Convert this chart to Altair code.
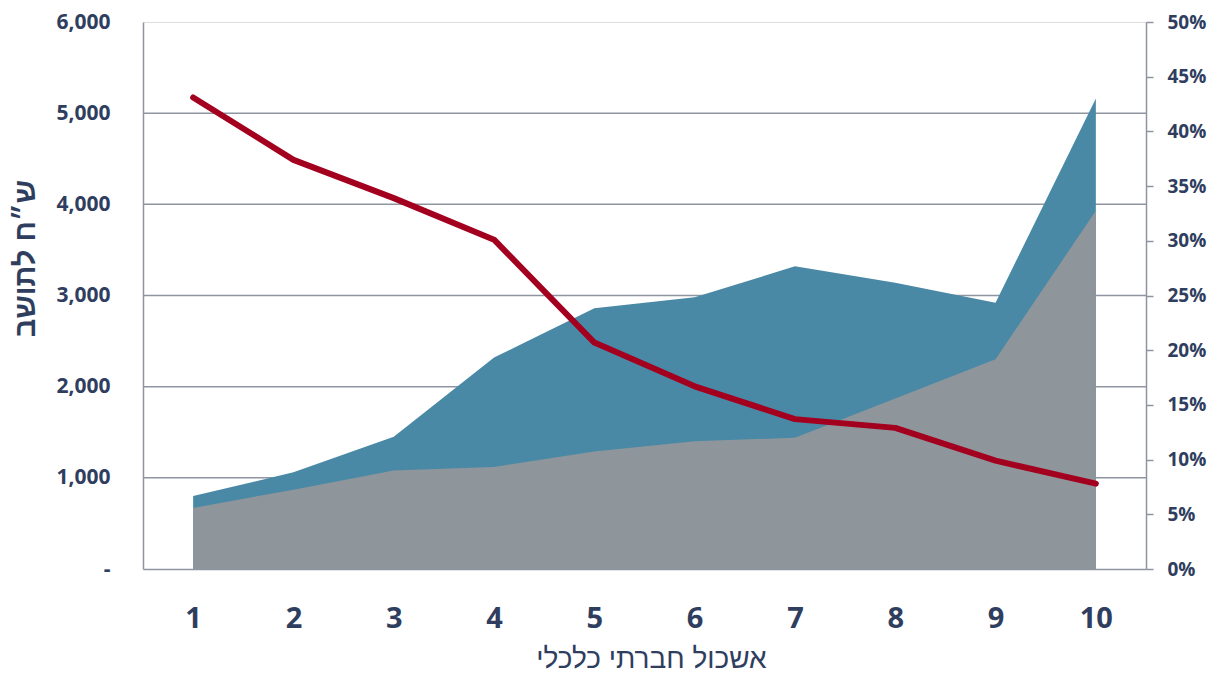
import altair as alt
import pandas as pd

clusters = [1, 2, 3, 4, 5, 6, 7, 8, 9, 10]
total_per_capita = [800, 1060, 1450, 2320, 2860, 2980, 3320, 3140, 2920, 5160]
base_per_capita = [670, 870, 1080, 1120, 1290, 1400, 1440, 1870, 2300, 3930]
share_pct = [0.431, 0.374, 0.339, 0.301, 0.207, 0.167, 0.137, 0.129, 0.099, 0.078]
grid_values = [1000, 2000, 3000, 4000, 5000]
left_ticks = [0, 1000, 2000, 3000, 4000, 5000, 6000]
right_ticks = [0, 0.05, 0.10, 0.15, 0.20, 0.25, 0.30, 0.35, 0.40, 0.45, 0.50]

df = pd.DataFrame({
    "cluster": clusters,
    "total": total_per_capita,
    "base": base_per_capita,
    "share": share_pct,
})
grid_df = pd.DataFrame({"v": grid_values})

TEXT = "#2F3E5E"
GRID = "#8F95A0"
BLUE = "#4A89A5"
GREY = "#8E969C"
RED = "#A3001F"

xscale = alt.Scale(type="point", padding=0.5)
xaxis = alt.Axis(
    title="אשכול חברתי כלכלי",
    labelAngle=0,
    ticks=False,
    domain=True,
    domainColor=GRID,
    domainWidth=1.5,
    labelFont="Open Sans",
    labelFontWeight="bold",
    labelFontSize=29,
    labelColor=TEXT,
    labelBaseline="alphabetic",
    labelPadding=58,
    titleFont="Liberation Sans",
    titleFontSize=28,
    titleFontWeight="normal",
    titleColor=TEXT,
    titleX=508,
    titleY=98,
    titleBaseline="alphabetic",
    titleAlign="center",
)
X = alt.X("cluster:O", scale=xscale, axis=xaxis)

yscale = alt.Scale(domain=[0, 6000], nice=False, zero=True)
yaxis = alt.Axis(
    title="ש״ח לתושב",
    values=left_ticks,
    labelExpr="datum.value == 0 ? '-\u00a0\u00a0' : format(datum.value, ',')",
    grid=False,
    ticks=False,
    domain=True,
    domainColor=GRID,
    domainWidth=1.5,
    labelFont="Open Sans",
    labelFontWeight="bold",
    labelFontSize=21,
    labelColor=TEXT,
    labelPadding=33,
    labelAlign="right",
    labelBaseline="middle",
    titleFont="Liberation Sans",
    titleFontSize=29,
    titleFontWeight="bold",
    titleColor=TEXT,
    titleAngle=-90,
    titleX=-118,
    titleY=236,
    titleAlign="center",
    titleBaseline="middle",
)

rules = alt.Chart(grid_df).mark_rule(color=GRID, strokeWidth=1.5).encode(
    y=alt.Y("v:Q", scale=yscale, axis=yaxis),
)
blue = alt.Chart(df).mark_area(color=BLUE, opacity=1).encode(
    x=X,
    y=alt.Y("total:Q", scale=yscale, axis=yaxis, stack=None),
)
grey = alt.Chart(df).mark_area(color=GREY, opacity=1).encode(
    x=X,
    y=alt.Y("base:Q", scale=yscale, axis=yaxis, stack=None),
)
left = alt.layer(rules, blue, grey)

raxis = alt.Axis(
    title=None,
    orient="right",
    values=right_ticks,
    format=".0%",
    grid=False,
    ticks=True,
    tickSize=7,
    tickColor=GRID,
    tickWidth=1.5,
    domain=True,
    domainColor=GRID,
    domainWidth=1.5,
    labelFont="Open Sans",
    labelFontWeight="bold",
    labelFontSize=19,
    labelColor=TEXT,
    labelPadding=14,
    labelBaseline="middle",
)
line = alt.Chart(df).mark_line(color=RED, strokeWidth=6, strokeCap="round", strokeJoin="round").encode(
    x=X,
    y=alt.Y("share:Q", scale=alt.Scale(domain=[0, 0.5], nice=False), axis=raxis),
)

chart = alt.layer(left, line).resolve_scale(y="independent").properties(
    width=1003,
    height=547,
    autosize=alt.AutoSizeParams(type="none"),
    padding={"left": 135, "top": 14, "right": 62, "bottom": 105},
).configure_view(stroke=None).configure(background="white")

chart.save("out.html", embed_options={"renderer": "svg", "actions": False})
